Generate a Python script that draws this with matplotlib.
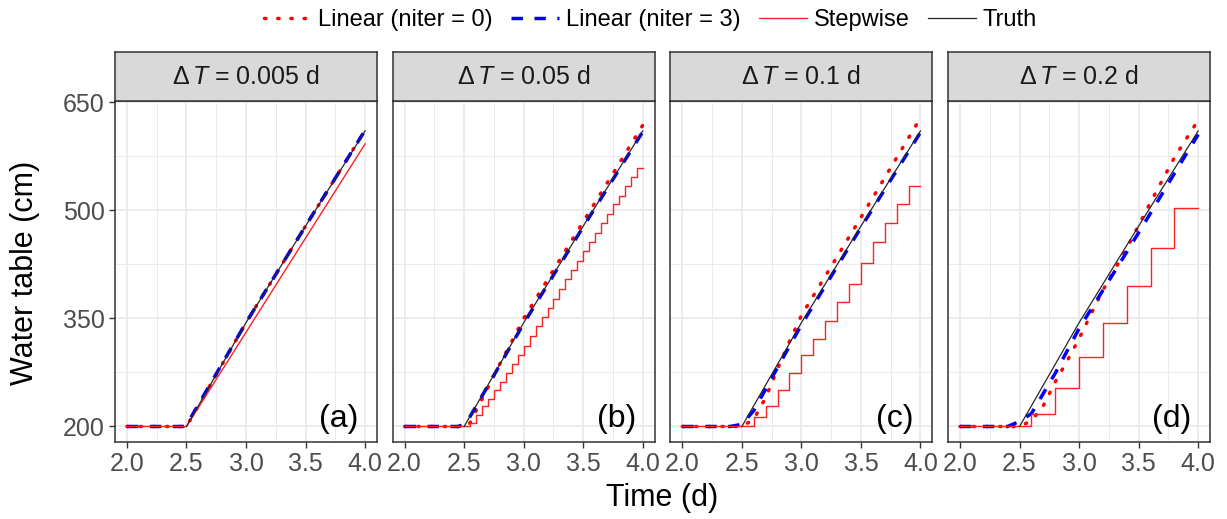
import numpy as np
import matplotlib.pyplot as plt
from matplotlib.lines import Line2D

plt.rcParams['font.family'] = 'Liberation Sans'
plt.rcParams['mathtext.fontset'] = 'custom'
plt.rcParams['mathtext.rm'] = 'Liberation Sans'
plt.rcParams['mathtext.it'] = 'Liberation Sans:italic'

# facet labels
dt_labels = ['0.005', '0.05', '0.1', '0.2']
panel_tags = ['(a)', '(b)', '(c)', '(d)']

# truth (same in every panel)
truth_t = [2.5, 3.0, 3.5, 4.0]
truth_h = [200, 344, 478, 610]

# Linear (niter = 0)
lin0_a_t = [2.0, 2.5, 3.0, 3.5, 4.0]
lin0_a_h = [200, 200, 344, 478, 611]
lin0_b_t = [2.0, 2.5, 2.55, 2.6, 2.7, 2.8, 2.9, 3.0, 3.5, 4.0]
lin0_b_h = [200, 200, 205, 222, 254, 287, 318, 350, 484, 618]
lin0_c_t = [2.0, 2.5, 2.6, 2.7, 2.8, 2.9, 3.0, 3.5, 4.0]
lin0_c_h = [200, 200, 210, 240, 280, 318, 354, 490, 628]
lin0_d_t = [2.0, 2.5, 2.6, 2.7, 2.8, 2.9, 3.0, 3.1, 3.2, 3.4, 3.6, 3.8, 4.0]
lin0_d_h = [200, 200, 208, 229, 262, 291, 322, 356, 389, 447, 511, 573, 625]

# Linear (niter = 3)
lin3_a_t = [2.0, 2.47, 2.5, 3.0, 3.5, 4.0]
lin3_a_h = [200, 200, 202, 344, 478, 611]
lin3_b_t = [2.0, 2.45, 2.5, 2.55, 2.6, 3.0, 3.5, 4.0]
lin3_b_h = [200, 200, 203, 214, 228, 343, 477, 609]
lin3_c_t = [2.0, 2.4, 2.5, 2.6, 2.7, 2.8, 3.0, 3.5, 4.0]
lin3_c_h = [200, 200, 203, 222, 252, 282, 341, 476, 608]
lin3_d_t = [2.0, 2.4, 2.5, 2.6, 2.8, 3.0, 3.2, 3.4, 3.6, 3.8, 4.0]
lin3_d_h = [200, 200, 207, 218, 274, 336, 389, 442, 496, 551, 605]

# Stepwise
step_a_t = [2.0, 2.5, 4.0]
step_a_h = [200, 200, 592]
step_b_t = [2.0, 2.55, 2.6, 2.65, 2.7, 2.75, 2.8, 2.85, 2.9, 2.95, 3.0,
            3.05, 3.1, 3.15, 3.2, 3.25, 3.3, 3.35, 3.4, 3.45, 3.5,
            3.55, 3.6, 3.65, 3.7, 3.75, 3.8, 3.85, 3.9, 3.95, 4.0]
step_b_h = [200, 205, 216, 228, 238, 250, 262, 274, 287, 299, 311,
            326, 339, 352, 365, 377, 391, 404, 417, 429, 443,
            456, 469, 482, 495, 508, 520, 534, 546, 559, 559]
step_c_t = [2.0, 2.6, 2.7, 2.8, 2.9, 3.0, 3.1, 3.2, 3.3, 3.4, 3.5, 3.6, 3.7, 3.8, 3.9, 4.0]
step_c_h = [200, 213, 229, 250, 274, 299, 322, 347, 372, 398, 427, 456, 482, 509, 534, 534]
step_d_t = [2.0, 2.6, 2.8, 3.0, 3.2, 3.4, 3.6, 3.8, 4.0]
step_d_h = [200, 218, 253, 296, 343, 395, 448, 503, 503]

lin0 = [(lin0_a_t, lin0_a_h), (lin0_b_t, lin0_b_h), (lin0_c_t, lin0_c_h), (lin0_d_t, lin0_d_h)]
lin3 = [(lin3_a_t, lin3_a_h), (lin3_b_t, lin3_b_h), (lin3_c_t, lin3_c_h), (lin3_d_t, lin3_d_h)]
step = [(step_a_t, step_a_h), (step_b_t, step_b_h), (step_c_t, step_c_h), (step_d_t, step_d_h)]

W, H = 1227, 519


def px_box(l, t, r, b):
  return [l / W, 1 - b / H, (r - l) / W, (b - t) / H]


fig = plt.figure(figsize=(W / 100, H / 100), dpi=100)

pw, gap = 262, 15.7
for i in range(4):
  left = 115 + i * (pw + gap)
  ax = fig.add_axes(px_box(left, 101, left + pw, 442))
  sax = fig.add_axes(px_box(left, 52, left + pw, 101))

  ax.plot(*lin0[i], color='#FF0000', lw=2.5, ls=(0, (0.4, 3.4)),
          dash_capstyle='round', zorder=2, label='Linear (niter = 0)')
  ax.plot(*lin3[i], color='#0000FF', lw=2.5, ls=(0, (3.3, 3.3)),
          zorder=3, label='Linear (niter = 3)')
  ax.plot(*step[i], color='#FF2020', lw=1.0, zorder=4, label='Stepwise',
          drawstyle='default' if i == 0 else 'steps-post')
  ax.plot(truth_t, truth_h, color='#262626', lw=0.9, zorder=5, label='Truth')

  ax.set_xlim(1.9, 4.1)
  ax.set_ylim(178.5, 651.5)
  ax.set_xticks([2.0, 2.5, 3.0, 3.5, 4.0])
  ax.set_xticklabels(['2.0', '2.5', '3.0', '3.5', '4.0'])
  ax.set_xticks([2.25, 2.75, 3.25, 3.75], minor=True)
  ax.set_yticks([200, 350, 500, 650])
  ax.set_yticks([275, 425, 575], minor=True)
  ax.grid(True, which='major', color='#EBEBEB', lw=1.3)
  ax.grid(True, which='minor', color='#EBEBEB', lw=0.7)
  ax.set_axisbelow(True)
  ax.tick_params(which='major', length=4.5, width=1, color='#333333',
                 labelcolor='#4D4D4D', labelsize=18, pad=3)
  ax.tick_params(which='minor', length=0)
  if i > 0:
    ax.tick_params(axis='y', which='major', length=0, labelleft=False)
  for s in ax.spines.values():
    s.set_color('#333333')
    s.set_linewidth(1.1)

  ax.text(3.78, 211, panel_tags[i], fontsize=23, ha='center', va='center',
          color='black')

  sax.set_facecolor('#D9D9D9')
  sax.set_xticks([])
  sax.set_yticks([])
  for s in sax.spines.values():
    s.set_color('#333333')
    s.set_linewidth(1.1)
  sax.text(0.5, 0.5, r'$\Delta\,T$ = ' + dt_labels[i] + ' d', fontsize=18,
           ha='center', va='center', color='#1A1A1A', transform=sax.transAxes)

  if i == 0:
    handles, labels = ax.get_legend_handles_labels()

fig.legend(handles, labels, loc='center', bbox_to_anchor=(0.53, 0.961),
           ncol=4, frameon=False, fontsize=17, handlelength=2.0,
           handletextpad=0.3, columnspacing=0.8)

fig.text(0.0204, 0.474, 'Water table (cm)', rotation=90, fontsize=22,
         ha='center', va='center')
fig.text(0.540, 0.040, 'Time (d)', fontsize=22, ha='center', va='center')

fig.savefig('out.png', dpi=100)
